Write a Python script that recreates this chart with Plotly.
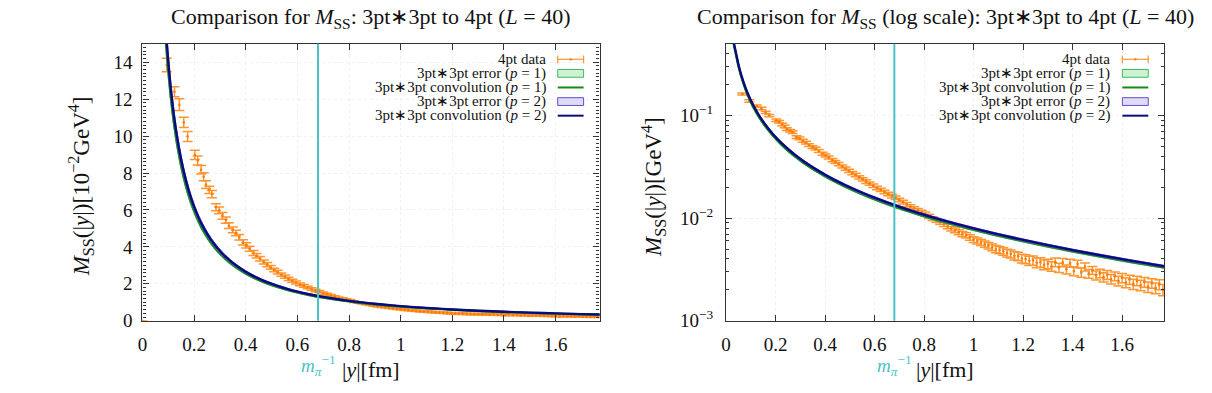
import plotly.graph_objects as go

# ---------------- data (GeV^4) ----------------
m_pi_inv = 0.68  # fm

x4 = [0.000, 0.066, 0.094, 0.124, 0.143, 0.160, 0.175, 0.203, 0.214, 0.227, 0.237, 0.246,
      0.259, 0.269, 0.285, 0.297, 0.310, 0.323, 0.335, 0.350, 0.362, 0.375, 0.390, 0.402,
      0.415, 0.430, 0.442, 0.455, 0.470, 0.483, 0.497, 0.510, 0.524, 0.538, 0.552, 0.566,
      0.580, 0.595, 0.610, 0.625, 0.640, 0.655, 0.670, 0.685, 0.700, 0.715, 0.730, 0.745,
      0.760, 0.775, 0.790, 0.805, 0.820, 0.835, 0.850, 0.865, 0.880, 0.895, 0.910, 0.925,
      0.940, 0.955, 0.970, 0.985, 1.000, 1.015, 1.030, 1.045, 1.060, 1.075, 1.090, 1.105,
      1.120, 1.135, 1.150, 1.165, 1.180, 1.195, 1.210, 1.225, 1.240, 1.255, 1.270, 1.285,
      1.300, 1.315, 1.330, 1.345, 1.360, 1.375, 1.390, 1.405, 1.420, 1.435, 1.450, 1.465,
      1.480, 1.495, 1.510, 1.525, 1.540, 1.555, 1.570, 1.585, 1.600, 1.615, 1.630, 1.645,
      1.660, 1.675, 1.690, 1.705, 1.720, 1.735, 1.750, 1.765]
y4 = [0.0, 0.162, 0.1385, 0.1240, 0.1170, 0.1074, 0.0998, 0.0898, 0.0868, 0.0818, 0.0780, 0.0737,
      0.0709, 0.0686, 0.0615, 0.0598, 0.0568, 0.0545, 0.0515, 0.0492, 0.0475, 0.0452, 0.0424, 0.0408,
      0.0390, 0.0367, 0.0352, 0.0336, 0.0318, 0.0304, 0.0289, 0.0275, 0.0263, 0.0250, 0.0239, 0.0227,
      0.0217, 0.0207, 0.0197, 0.0189, 0.0180, 0.0172, 0.0164, 0.0158, 0.0150, 0.0143, 0.0136, 0.0130,
      0.0124, 0.0119, 0.0114, 0.0110, 0.0104, 0.0099, 0.0095, 0.0091, 0.0087, 0.0083, 0.0079, 0.0076,
      0.0073, 0.0070, 0.0068, 0.0065, 0.0062, 0.0060, 0.0058, 0.0056, 0.0054, 0.0052, 0.0050, 0.0049,
      0.00475, 0.00458, 0.00448, 0.00430, 0.00424, 0.00405, 0.00400, 0.00385, 0.00388, 0.00368, 0.00372, 0.00352,
      0.00360, 0.00340, 0.00372, 0.00330, 0.00370, 0.00318, 0.00365, 0.00305, 0.00358, 0.00296, 0.00335, 0.00288,
      0.00310, 0.00278, 0.00290, 0.00266, 0.00280, 0.00255, 0.00272, 0.00245, 0.00262, 0.00236, 0.00252, 0.00228,
      0.00245, 0.00222, 0.00238, 0.00214, 0.00232, 0.00208, 0.00226, 0.00200]
e4 = [0.0, 0.0040, 0.0037, 0.0027, 0.0032, 0.0028, 0.0027, 0.0025, 0.0024, 0.0023, 0.0022, 0.0021,
      0.0020, 0.0020, 0.0019, 0.0018, 0.0018, 0.0017, 0.0016, 0.0016, 0.0015, 0.0015, 0.0014, 0.0014,
      0.0013, 0.0013, 0.0012, 0.0012, 0.0011, 0.0011, 0.0010, 0.0010, 0.0010, 0.0009, 0.0009, 0.0009,
      0.0008, 0.0008, 0.0008, 0.0007, 0.0007, 0.0007, 0.0007, 0.0006, 0.0006, 0.0006, 0.0006, 0.0005,
      0.0005, 0.0005, 0.0005, 0.0005, 0.0005, 0.0004, 0.0004, 0.0004, 0.0004, 0.0004, 0.0004, 0.0004,
      0.0004, 0.0004, 0.0004, 0.0004, 0.0004, 0.0004, 0.0004, 0.0004, 0.0004, 0.0004, 0.0004, 0.0004,
      0.00040, 0.00040, 0.00040, 0.00040, 0.00040, 0.00040, 0.00040, 0.00040, 0.00040, 0.00040, 0.00040, 0.00038,
      0.00038, 0.00036, 0.00036, 0.00034, 0.00034, 0.00032, 0.00032, 0.00030, 0.00030, 0.00030, 0.00030, 0.00028,
      0.00028, 0.00028, 0.00028, 0.00028, 0.00028, 0.00027, 0.00027, 0.00027, 0.00027, 0.00026, 0.00026, 0.00026,
      0.00026, 0.00026, 0.00026, 0.00025, 0.00025, 0.00025, 0.00025, 0.00025]

xc = [0.025, 0.030, 0.040, 0.050, 0.060, 0.070, 0.080, 0.090, 0.100, 0.115, 0.130, 0.150,
      0.170, 0.190, 0.210, 0.230, 0.255, 0.280, 0.310, 0.340, 0.370, 0.400, 0.440, 0.480,
      0.520, 0.560, 0.600, 0.650, 0.700, 0.750, 0.800, 0.850, 0.900, 0.950, 1.000, 1.100,
      1.200, 1.300, 1.400, 1.500, 1.600, 1.700, 1.775]
conv_p2 = [0.68, 0.535, 0.409, 0.316, 0.2556, 0.2137, 0.1827, 0.1591, 0.1406, 0.1192, 0.1032, 0.0872,
           0.0751, 0.0657, 0.0583, 0.0522, 0.0461, 0.0411, 0.0363, 0.0324, 0.0292, 0.02647, 0.02349, 0.02104,
           0.01901, 0.01728, 0.01580, 0.01423, 0.01291, 0.01178, 0.01079, 0.00994, 0.00919, 0.00853, 0.00794, 0.00694,
           0.00613, 0.00545, 0.00488, 0.00440, 0.00398, 0.00362, 0.00338]
err_p2 = [0.020, 0.015, 0.011, 0.0085, 0.0068, 0.0056, 0.0048, 0.0041, 0.0036, 0.0030, 0.0026, 0.0022,
          0.0019, 0.0016, 0.0014, 0.0013, 0.0011, 0.0010, 0.0009, 0.0008, 0.0007, 0.00063, 0.00056, 0.0005,
          0.00045, 0.0004, 0.00037, 0.00033, 0.0003, 0.00027, 0.00025, 0.00023, 0.00021, 0.0002, 0.00018, 0.00016,
          0.00014, 0.00012, 0.00011, 0.0001, 0.00009, 0.00008, 0.000075]
conv_p1 = [0.66, 0.516, 0.395, 0.305, 0.2466, 0.2062, 0.1763, 0.1535, 0.1357, 0.1150, 0.0996, 0.0841,
           0.0725, 0.0634, 0.0563, 0.0504, 0.0445, 0.0397, 0.0351, 0.0314, 0.0283, 0.02568, 0.02279, 0.02041,
           0.01844, 0.01676, 0.01533, 0.01380, 0.01252, 0.01143, 0.01047, 0.00964, 0.00894, 0.00830, 0.00773, 0.00676,
           0.00598, 0.00531, 0.00476, 0.00429, 0.00388, 0.00353, 0.00330]
err_p1 = err_p2

# ---------------- styling ----------------
FONT = "Liberation Serif"
ORANGE = "rgb(255,120,0)"
ORANGE_BAR = "rgb(255,150,50)"
GREEN = "rgb(20,140,20)"
GREEN_FILL = "rgba(200,240,205,0.9)"
GREEN_EDGE = "rgb(60,190,90)"
NAVY = "rgb(10,10,125)"
BLUE_FILL = "rgba(220,215,245,0.9)"
BLUE_EDGE = "rgb(90,80,210)"
CYAN = "rgb(72,196,196)"
TXT = "#111"

W, H = 1212, 393
L_X0, L_X1 = 138, 597
R_X0, R_X1 = 724, 1164
Y_TOP, Y_BOT = 45, 330


def px(x):
    return x / W


def py(y):
    return 1 - y / H


fig = go.Figure()

panels = [("x", "y", 100.0), ("x2", "y2", 1.0)]
for xa, ya, scale in panels:
    fig.add_trace(go.Scatter(
        x=x4, y=[v * scale for v in y4], xaxis=xa, yaxis=ya, mode="markers",
        marker=dict(color=ORANGE, size=2.5),
        error_y=dict(type="data", array=[v * scale for v in e4], color=ORANGE_BAR,
                     thickness=1.5, width=5),
        showlegend=False, hoverinfo="skip"))
    for conv, err, fill, edge, line in [(conv_p1, err_p1, GREEN_FILL, GREEN_EDGE, GREEN),
                                        (conv_p2, err_p2, BLUE_FILL, BLUE_EDGE, NAVY)]:
        hi = [(c + e) * scale for c, e in zip(conv, err)]
        lo = [(c - e) * scale for c, e in zip(conv, err)]
        fig.add_trace(go.Scatter(x=xc, y=hi, xaxis=xa, yaxis=ya, mode="lines",
                                 line=dict(color=edge, width=1, shape="spline"),
                                 showlegend=False, hoverinfo="skip"))
        fig.add_trace(go.Scatter(x=xc, y=lo, xaxis=xa, yaxis=ya, mode="lines",
                                 line=dict(color=edge, width=1, shape="spline"), fill="tonexty",
                                 fillcolor=fill, showlegend=False, hoverinfo="skip"))
        fig.add_trace(go.Scatter(x=xc, y=[c * scale for c in conv], xaxis=xa, yaxis=ya,
                                 mode="lines", line=dict(color=line, width=2.4, shape="spline"),
                                 showlegend=False, hoverinfo="skip"))

axis_common = dict(showline=True, linecolor="#333", linewidth=1.2, mirror="ticks",
                   ticks="inside", ticklen=6, tickcolor="#333", showgrid=True,
                   gridcolor="#f0f0f0", griddash="dot", zeroline=False,
                   tickfont=dict(family=FONT, size=19, color=TXT))

xt = [0, 0.2, 0.4, 0.6, 0.8, 1.0, 1.2, 1.4, 1.6]
xtt = ["0", "0.2", "0.4", "0.6", "0.8", "1", "1.2", "1.4", "1.6"]

fig.update_layout(
    width=W, height=H, margin=dict(l=0, r=0, t=0, b=0),
    paper_bgcolor="white", plot_bgcolor="white", showlegend=False,
    xaxis=dict(domain=[px(L_X0), px(L_X1)], range=[0, 1.77], anchor="y",
               tickvals=xt, ticktext=xtt, ticklabelstandoff=6, **axis_common),
    yaxis=dict(domain=[py(Y_BOT), py(Y_TOP)], range=[0, 15], anchor="x",
               tickvals=[0, 2, 4, 6, 8, 10, 12, 14], ticklabelstandoff=5,
               minor=dict(ticks="inside", ticklen=3, dtick=0.2, tickcolor="#333",
                          showgrid=False),
               **axis_common),
    xaxis2=dict(domain=[px(R_X0), px(R_X1)], range=[0, 1.77], anchor="y2",
                tickvals=xt, ticktext=xtt, ticklabelstandoff=6, **axis_common),
    yaxis2=dict(domain=[py(Y_BOT), py(Y_TOP)], type="log", range=[-3, -0.301],
                anchor="x2", tickvals=[0.001, 0.01, 0.1], ticklabelstandoff=8,
                ticktext=["10<sup>−3</sup>", "10<sup>−2</sup>", "10<sup>−1</sup>"],
                minor=dict(ticks="inside", ticklen=3, tickcolor="#333", showgrid=False,
                           tickvals=[0.002, 0.003, 0.004, 0.005, 0.006, 0.007, 0.008, 0.009,
                                     0.02, 0.03, 0.04, 0.05, 0.06, 0.07, 0.08, 0.09,
                                     0.2, 0.3, 0.4, 0.5]),
                **axis_common),
)

shapes = []
annotations = []

# vertical m_pi^-1 lines and their labels
for xa in ["x", "x2"]:
    shapes.append(dict(type="line", xref=xa, yref=("y domain" if xa == "x" else "y2 domain"),
                       x0=m_pi_inv, x1=m_pi_inv, y0=0, y1=1,
                       line=dict(color=CYAN, width=2)))
    annotations.append(dict(xref=xa, yref="paper", x=m_pi_inv, y=py(376), yanchor="middle",
                            xanchor="center", showarrow=False,
                            text="<i>m</i><sub><i>π</i></sub><sup>−1</sup>",
                            font=dict(family=FONT, size=19, color=CYAN)))

titles = [("Comparison for <i>M</i><sub>SS</sub>: 3pt∗3pt to 4pt (<i>L</i> = 40)", L_X0, L_X1),
          ("Comparison for <i>M</i><sub>SS</sub> (log scale): 3pt∗3pt to 4pt (<i>L</i> = 40)",
           R_X0, R_X1)]
for t, a, b in titles:
    annotations.append(dict(xref="paper", yref="paper", x=px((a + b) / 2), y=py(19),
                            xanchor="center", yanchor="middle", showarrow=False, text=t,
                            font=dict(family=FONT, size=22, color=TXT)))
    annotations.append(dict(xref="paper", yref="paper", x=px((a + b) / 2), y=py(380),
                            xanchor="center", yanchor="middle", showarrow=False,
                            text="|<i>y</i>|[fm]", font=dict(family=FONT, size=22, color=TXT)))

ylabels = [("<i>M</i><sub>SS</sub>(|<i>y</i>|)[10<sup>−2</sup>GeV<sup>4</sup>]", 76),
           ("<i>M</i><sub>SS</sub>(|<i>y</i>|)[GeV<sup>4</sup>]", 651)]
for t, xpos in ylabels:
    annotations.append(dict(xref="paper", yref="paper", x=px(xpos), y=py(192),
                            xanchor="center", yanchor="middle", showarrow=False, text=t,
                            textangle=-90, font=dict(family=FONT, size=23, color=TXT)))

# gnuplot-style key (text right-aligned, sample on the right)
leg_labels = ["4pt data", "3pt∗3pt error (<i>p</i> = 1)", "3pt∗3pt convolution (<i>p</i> = 1)",
              "3pt∗3pt error (<i>p</i> = 2)", "3pt∗3pt convolution (<i>p</i> = 2)"]
rows = [61, 75.5, 90, 104.5, 119]
for x1 in [L_X1, R_X1]:
    tx = x1 - 52
    s0, s1 = x1 - 42, x1 - 16
    for lab, ry in zip(leg_labels, rows):
        annotations.append(dict(xref="paper", yref="paper", x=px(tx), y=py(ry),
                                xanchor="right", yanchor="middle", showarrow=False, text=lab,
                                font=dict(family=FONT, size=15, color=TXT)))
    ry = rows[0]
    shapes.append(dict(type="line", xref="paper", yref="paper", x0=px(s0), x1=px(s1),
                       y0=py(ry), y1=py(ry), line=dict(color=ORANGE_BAR, width=1.2)))
    for sx in (s0, s1):
        shapes.append(dict(type="line", xref="paper", yref="paper", x0=px(sx), x1=px(sx),
                           y0=py(ry - 4), y1=py(ry + 4), line=dict(color=ORANGE_BAR, width=1.2)))
    shapes.append(dict(type="circle", xref="paper", yref="paper",
                       x0=px((s0 + s1) / 2 - 1.2), x1=px((s0 + s1) / 2 + 1.2),
                       y0=py(ry - 1.2), y1=py(ry + 1.2), fillcolor=ORANGE,
                       line=dict(color=ORANGE, width=0)))
    for ry, fill, edge in [(rows[1], GREEN_FILL, GREEN_EDGE), (rows[3], BLUE_FILL, BLUE_EDGE)]:
        shapes.append(dict(type="rect", xref="paper", yref="paper", x0=px(s0), x1=px(s1),
                           y0=py(ry + 4), y1=py(ry - 4), fillcolor=fill,
                           line=dict(color=edge, width=1)))
    for ry, col in [(rows[2], GREEN), (rows[4], NAVY)]:
        shapes.append(dict(type="line", xref="paper", yref="paper", x0=px(s0), x1=px(s1),
                           y0=py(ry), y1=py(ry), line=dict(color=col, width=2)))

fig.update_layout(shapes=shapes, annotations=annotations)
fig.write_html("out.html")
